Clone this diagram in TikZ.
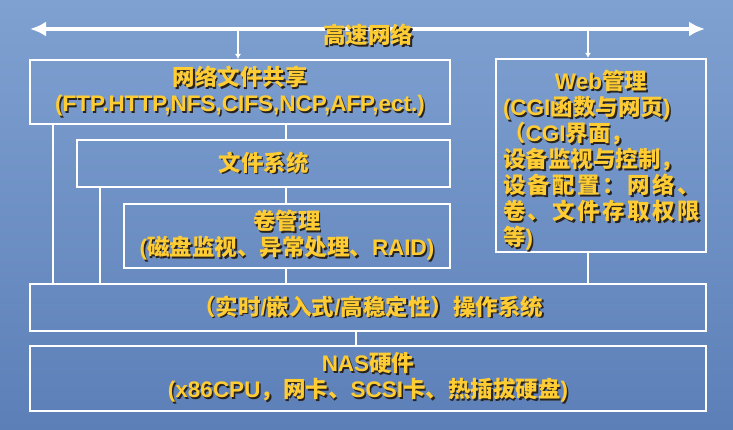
\documentclass[tikz,border=0pt]{standalone}
\usepackage{fontspec}
\setmainfont{Liberation Sans}
\newfontfamily\cjkfont{Noto Sans CJK SC}
\newfontfamily\cjkwide{Noto Sans CJK SC}[LetterSpace=11]
\usetikzlibrary{arrows.meta, calc}

\definecolor{bgtop}{RGB}{127,161,209}
\definecolor{bgbot}{RGB}{92,127,184}
\definecolor{gold}{RGB}{255,204,51}
\definecolor{txtshadow}{RGB}{40,35,30}

\newcommand{\zh}[1]{{\cjkfont #1}}
\newcommand{\zhw}[1]{{\cjkwide #1}}
\newcommand{\sh}[1]{\leavevmode\rlap{\kern1.5pt\raisebox{-1.5pt}{\color{txtshadow}#1}}#1}
\newcommand{\webline}[1]{\sh{\makebox[196pt][l]{#1}}}

\begin{document}
\begin{tikzpicture}[
    x=1pt, y=1pt,
    >={Latex[length=16pt, width=15pt]},
    every node/.style={font=\fontsize{22.5}{26}\selectfont\bfseries, text=gold},
    layerbox/.style={draw=white, line width=2pt, inner sep=0pt, align=center},
    link/.style={white, line width=2.2pt},
    bus/.style={white, line width=4.5pt},
    tick/.style={white, line width=2pt, -{Latex[length=5pt, width=6pt]}},
]
% Background
\shade[top color=bgtop, bottom color=bgbot] (0,0) rectangle (733,430);
\useasboundingbox (0,0) rectangle (733,430);

% High speed network bus
\coordinate (busl) at (30,401);
\coordinate (busr) at (705,401);
\draw[bus, <->] (busl) -- (busr);
\node (net) at (368,394) {\sh{\zh{高速网络}}};

% Layers
\node[layerbox, minimum width=420pt, minimum height=64pt] (share) at (240,338)
    {\sh{\zh{网络文件共享}}\\\sh{(FTP.HTTP,NFS,CIFS,NCP,AFP,ect.)}};
\node[layerbox, minimum width=373pt, minimum height=47pt] (fs) at (263.5,266.5)
    {\sh{\zh{文件系统}}};
\node[layerbox, minimum width=326pt, minimum height=64pt] (vol) at (287,194)
    {\sh{\zh{卷管理}}\\\sh{(\zh{磁盘监视、异常处理、}RAID)}};
\node[layerbox, minimum width=210pt, minimum height=191pt] (web) at (601,274.5)
    {\rule{0pt}{31pt}\sh{Web\zh{管理}}\\
     \webline{(CGI\zh{函数与网页})}\\
     \webline{\zh{（}CGI\zh{界面，}}\\
     \webline{\zh{设备监视与控制，}}\\
     \webline{\zhw{设备配置：网络、}}\\
     \webline{\zhw{卷、文件存取权限}}\\
     \webline{\zh{等})}};
\node[layerbox, minimum width=676pt, minimum height=47pt] (os) at (368,122.5)
    {\sh{\zh{（实时}/\zh{嵌入式}/\zh{高稳定性）操作系统}}};
\node[layerbox, minimum width=676pt, minimum height=65pt] (nas) at (368,51.5)
    {\sh{NAS\zh{硬件}}\\\sh{(x86CPU\zh{，网卡、}SCSI\zh{卡、热插拔硬盘})}};

% Connector columns
\coordinate (xa) at (53,0);
\coordinate (xb) at (286,0);
\coordinate (xc) at (100,0);
\coordinate (xd) at (588,0);
\coordinate (xe) at (356,0);
\coordinate (xf) at (238,0);

% Bus taps
\draw[tick] (xf |- busl) -- (xf |- share.north);
\draw[tick] (xd |- busl) -- (xd |- web.north);

% Layer links
\draw[link] (xa |- share.south) -- (xa |- os.north);
\draw[link] (xb |- share.south) -- (xb |- fs.north);
\draw[link] (xc |- fs.south) -- (xc |- os.north);
\draw[link] (xb |- fs.south) -- (xb |- vol.north);
\draw[link] (xb |- vol.south) -- (xb |- os.north);
\draw[link] (xd |- web.south) -- (xd |- os.north);
\draw[link] (xe |- os.south) -- (xe |- nas.north);

\end{tikzpicture}
\end{document}
